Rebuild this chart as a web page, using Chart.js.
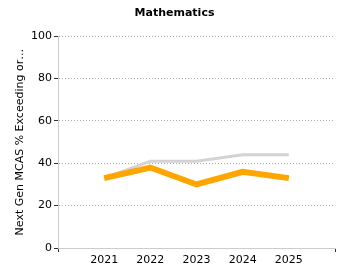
<!DOCTYPE html>
<html>
<head>
<meta charset="utf-8">
<script src="https://cdn.jsdelivr.net/npm/chart.js@4/dist/chart.umd.min.js"></script>
<style>
  html, body { margin: 0; padding: 0; background: #fff; }
  #wrap { width: 350px; height: 280px; }
</style>
</head>
<body>
<div id="wrap"><canvas id="mathChart" width="350" height="280"></canvas></div>
<script>
// categories (empty slots at both ends, as in the reference)
const years = ['', '2021', '2022', '2023', '2024', '2025', ''];
const schoolValues = [null, 33, 38, 30, 36, 33, null];
const stateValues = [null, 33, 41, 41, 44, 44, null];
const yTicks = [0, 20, 40, 60, 80, 100];

const FONT = 'DejaVu Sans, Verdana, sans-serif';

const ctx = document.getElementById('mathChart').getContext('2d');
new Chart(ctx, {
  type: 'line',
  data: {
    labels: years,
    datasets: [
      {
        label: 'State',
        data: stateValues,
        borderColor: '#d3d3d3',
        borderWidth: 3,
        pointRadius: 0,
        tension: 0,
        order: 2
      },
      {
        label: 'School',
        data: schoolValues,
        borderColor: '#ffa500',
        borderWidth: 6,
        pointRadius: 0,
        tension: 0,
        order: 1
      }
    ]
  },
  options: {
    responsive: false,
    animation: false,
    layout: { padding: { left: 14, right: 15, top: 0, bottom: 0 } },
    plugins: {
      legend: { display: false },
      tooltip: { enabled: false },
      title: {
        display: true,
        text: 'Mathematics',
        color: '#000',
        font: { family: FONT, size: 11, weight: 'bold' },
        padding: { top: 7, bottom: 16 }
      }
    },
    scales: {
      x: {
        offset: false,
        border: { color: '#cccccc', width: 1 },
        grid: {
          drawOnChartArea: false,
          tickLength: 4,
          color: (c) => (c.index === 0 || c.index === years.length - 1) ? '#333' : 'rgba(0,0,0,0)'
        },
        ticks: {
          color: '#000',
          font: { family: FONT, size: 11 },
          maxRotation: 0,
          autoSkip: false,
          padding: 2
        },
        afterFit: (scale) => { scale.height = 32; }
      },
      y: {
        min: 0,
        max: 100,
        afterBuildTicks: (scale) => { scale.ticks = yTicks.map(v => ({ value: v })); },
        border: { color: '#cccccc', width: 1, dash: [1, 2] },
        grid: {
          color: (c) => c.tick && c.tick.value === 0 ? 'rgba(0,0,0,0)' : '#aaaaaa',
          tickColor: '#333',
          tickLength: 4,
          lineWidth: 1,
          tickBorderDash: []
        },
        ticks: {
          color: '#000',
          font: { family: FONT, size: 11 },
          padding: 2
        },
        title: {
          display: true,
          text: 'Next Gen MCAS % Exceeding or…',
          color: '#000',
          font: { family: FONT, size: 11 },
          padding: { top: 0, bottom: 4 }
        },
        afterFit: (scale) => { scale.width = 44; }
      }
    }
  }
});
</script>
</body>
</html>
